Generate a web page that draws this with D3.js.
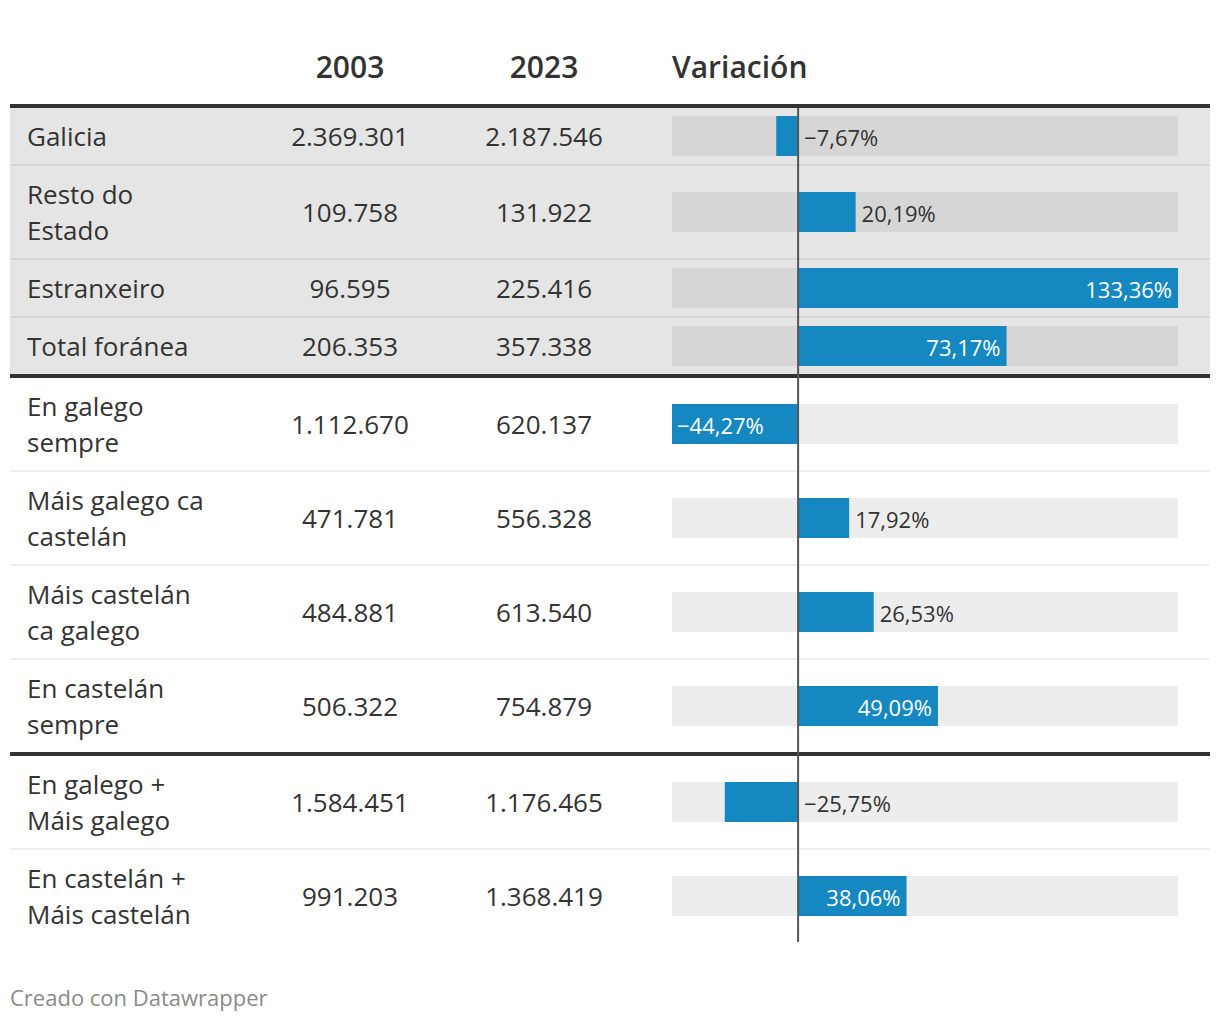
<!DOCTYPE html>
<html>
<head>
<meta charset="utf-8">
<script src="https://cdn.jsdelivr.net/npm/d3@7"></script>
<style>
  body { margin: 0; background: #fff; }
  svg { display: block; }
  text { font-family: "Open Sans", "Noto Sans", sans-serif; }
</style>
</head>
<body>
<svg id="chart" width="1220" height="1022"></svg>
<script>
// ---- Data ----
const columns = ["2003", "2023", "Variación"];
const categories = [
  ["Galicia"],
  ["Resto do", "Estado"],
  ["Estranxeiro"],
  ["Total foránea"],
  ["En galego", "sempre"],
  ["Máis galego ca", "castelán"],
  ["Máis castelán", "ca galego"],
  ["En castelán", "sempre"],
  ["En galego +", "Máis galego"],
  ["En castelán +", "Máis castelán"]
];
const groups = [0, 0, 0, 0, 1, 1, 1, 1, 2, 2];
const values2003 = [2369301, 109758, 96595, 206353, 1112670, 471781, 484881, 506322, 1584451, 991203];
const values2023 = [2187546, 131922, 225416, 357338, 620137, 556328, 613540, 754879, 1176465, 1368419];
const variation = [-7.67, 20.19, 133.36, 73.17, -44.27, 17.92, 26.53, 49.09, -25.75, 38.06];
const footer = "Creado con Datawrapper";

// ---- Layout ----
const svg = d3.select("#chart");
const left = 10, right = 1210;
const locale = d3.formatLocale({decimal: ",", thousands: ".", grouping: [3], currency: ["", "€"], minus: "\u2212"});
const fmtInt = locale.format(",d");
const fmtPct = v => locale.format(",.2f")(v) + "%";

const x = d3.scaleLinear()
  .domain([d3.min(variation), d3.max(variation)])
  .range([672, 1178]);

// compute row positions: content height + border (2px separator or 4px group rule)
const rows = [];
let y = 108;
categories.forEach((c, i) => {
  const ch = c.length > 1 ? 92 : 56;
  const last = i === categories.length - 1;
  const groupEnd = !last && groups[i + 1] !== groups[i];
  const border = groupEnd ? 4 : 2;
  rows.push({i, top: y, ch, groupEnd, last, border});
  y += ch + border;
});

// header
const colX = [350, 544];
svg.append("g").selectAll("text")
  .data(columns.slice(0, 2))
  .join("text")
  .attr("x", (d, i) => colX[i])
  .attr("y", 78)
  .attr("text-anchor", "middle")
  .attr("font-size", 30)
  .attr("font-weight", 600)
  .attr("fill", "#333")
  .text(d => d);
svg.append("text")
  .attr("x", 672).attr("y", 78)
  .attr("font-size", 30).attr("font-weight", 600).attr("fill", "#333")
  .text(columns[2]);

// row backgrounds and separators
const rowG = svg.append("g");
rows.forEach(r => {
  const grey = groups[r.i] === 0;
  if (grey) {
    rowG.append("rect").attr("x", left).attr("y", r.top).attr("width", right - left).attr("height", r.ch + 2)
      .attr("fill", "#e5e5e5");
  }
  if (!r.groupEnd && !r.last) {
    rowG.append("rect").attr("x", left).attr("y", r.top + r.ch).attr("width", right - left).attr("height", 2)
      .attr("fill", grey ? "#d6d6d6" : "#eeeeee");
  }
});

// thick rules
const thickYs = [104].concat(rows.filter(r => r.groupEnd).map(r => r.top + r.ch));
svg.append("g").selectAll("rect")
  .data(thickYs)
  .join("rect")
  .attr("x", left).attr("width", right - left)
  .attr("y", d => d).attr("height", 4)
  .attr("fill", "#333");

// text cells
const cellG = svg.append("g");
rows.forEach(r => {
  const cy = r.top + r.ch / 2 + 1;
  const lines = categories[r.i];
  const lh = 36;
  lines.forEach((ln, k) => {
    cellG.append("text")
      .attr("x", 27)
      .attr("y", cy + (k - (lines.length - 1) / 2) * lh)
      .attr("dy", "0.35em")
      .attr("font-size", 26).attr("fill", "#333")
      .text(ln);
  });
  [values2003[r.i], values2023[r.i]].forEach((v, k) => {
    cellG.append("text")
      .attr("x", colX[k]).attr("y", cy).attr("dy", "0.35em")
      .attr("text-anchor", "middle")
      .attr("font-size", 26).attr("fill", "#333")
      .text(fmtInt(v));
  });
});

// bars
const barG = svg.append("g");
const barH = 40;
rows.forEach(r => {
  const cy = r.top + r.ch / 2;
  const v = variation[r.i];
  const grey = groups[r.i] === 0;
  barG.append("rect")
    .attr("x", x.range()[0]).attr("y", cy - barH / 2)
    .attr("width", x.range()[1] - x.range()[0]).attr("height", barH)
    .attr("fill", grey ? "#d6d6d6" : "#ededed");
  const x0 = x(0), x1 = x(v);
  barG.append("rect")
    .attr("x", Math.min(x0, x1)).attr("y", cy - barH / 2)
    .attr("width", Math.abs(x1 - x0)).attr("height", barH)
    .attr("fill", "#1587c1");
  const inside = Math.abs(x1 - x0) > 100;
  const t = barG.append("text")
    .attr("y", cy + 2).attr("dy", "0.35em")
    .attr("font-size", 22)
    .text(fmtPct(v));
  if (inside) {
    t.attr("fill", "#fff");
    if (v >= 0) t.attr("x", x1 - 6).attr("text-anchor", "end");
    else t.attr("x", x1 + 5).attr("text-anchor", "start");
  } else {
    t.attr("fill", "#333");
    if (v >= 0) t.attr("x", x1 + 6).attr("text-anchor", "start");
    else t.attr("x", x0 + 6).attr("text-anchor", "start");
  }
});

// zero line
const lastRow = rows[rows.length - 1];
svg.append("line")
  .attr("x1", x(0)).attr("x2", x(0))
  .attr("y1", 108).attr("y2", lastRow.top + lastRow.ch)
  .attr("stroke", "#555").attr("stroke-width", 2);

// footer
svg.append("text")
  .attr("x", 10).attr("y", 1006)
  .attr("font-size", 22).attr("fill", "#8a8a8a")
  .text(footer);
</script>
</body>
</html>
